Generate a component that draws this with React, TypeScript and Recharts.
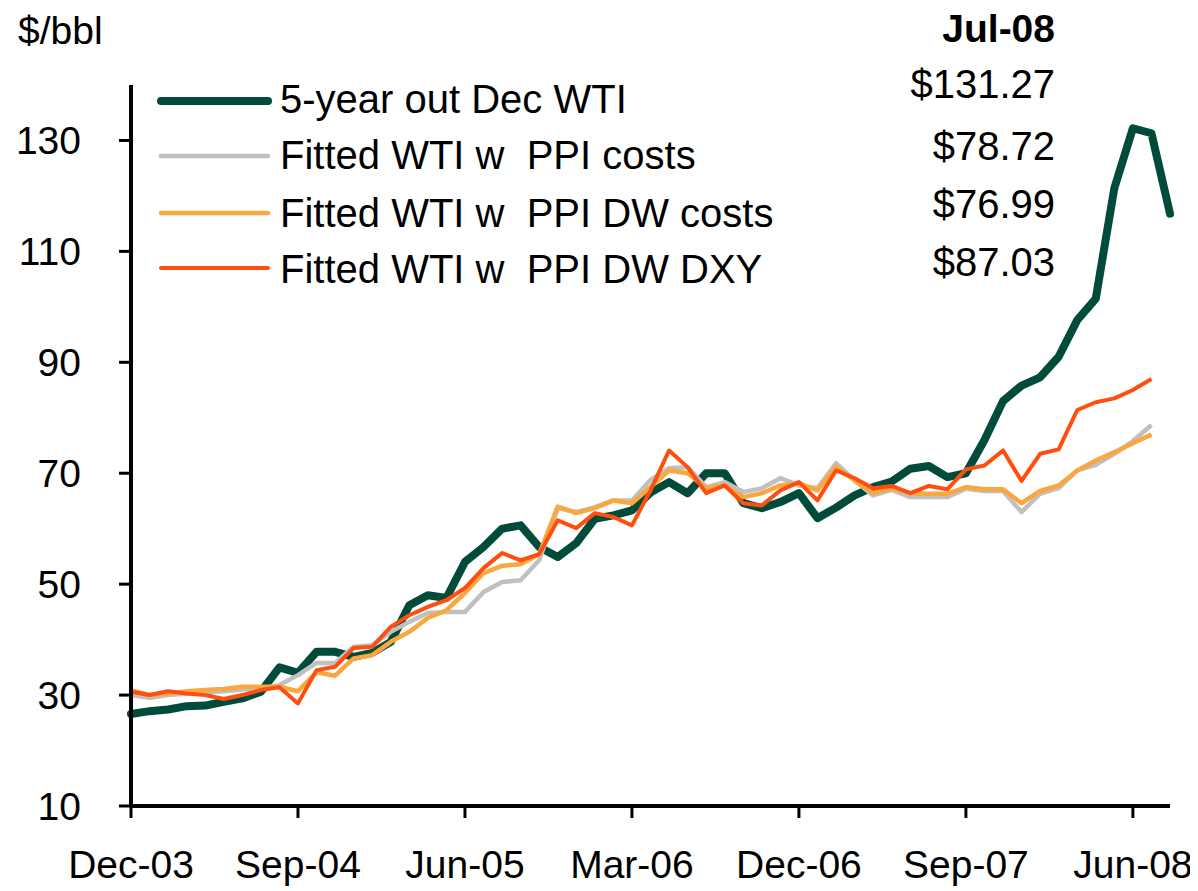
import React from 'react';
import { LineChart, Line, XAxis, YAxis, Legend } from 'recharts';

const months = [
  'Dec-03',
  'Jan-04', 'Feb-04', 'Mar-04', 'Apr-04', 'May-04', 'Jun-04', 'Jul-04', 'Aug-04', 'Sep-04', 'Oct-04', 'Nov-04', 'Dec-04',
  'Jan-05', 'Feb-05', 'Mar-05', 'Apr-05', 'May-05', 'Jun-05', 'Jul-05', 'Aug-05', 'Sep-05', 'Oct-05', 'Nov-05', 'Dec-05',
  'Jan-06', 'Feb-06', 'Mar-06', 'Apr-06', 'May-06', 'Jun-06', 'Jul-06', 'Aug-06', 'Sep-06', 'Oct-06', 'Nov-06', 'Dec-06',
  'Jan-07', 'Feb-07', 'Mar-07', 'Apr-07', 'May-07', 'Jun-07', 'Jul-07', 'Aug-07', 'Sep-07', 'Oct-07', 'Nov-07', 'Dec-07',
  'Jan-08', 'Feb-08', 'Mar-08', 'Apr-08', 'May-08', 'Jun-08', 'Jul-08', 'Aug-08',
];

const wti = [
  26.6,
  27.1, 27.4, 28.0, 28.1, 28.8, 29.4, 30.6, 35.0, 34.0, 37.8, 37.8, 36.9,
  37.6, 39.6, 46.2, 48.0, 47.5, 54.0, 56.7, 60.0, 60.6, 56.7, 54.9, 57.4,
  61.8, 62.4, 63.3, 66.5, 68.4, 66.4, 70.0, 70.0, 64.6, 63.7, 64.8, 66.4,
  61.9, 63.8, 66.0, 67.5, 68.5, 70.8, 71.3, 69.3, 70.0, 76.0, 83.0, 85.8,
  87.3, 91.0, 97.6, 101.5, 121.4, 132.2, 131.3, 116.8,
];

const ppi = [
  30.0,
  29.5, 30.0, 30.3, 30.5, 30.7, 31.0, 31.2, 31.8, 33.6, 35.8, 35.8, 38.7,
  39.0, 41.4, 43.2, 44.8, 45.0, 45.0, 48.6, 50.4, 50.7, 54.3, 63.7, 63.0,
  63.9, 65.1, 65.1, 68.8, 70.9, 71.1, 67.5, 68.4, 66.6, 67.3, 69.1, 67.8,
  67.3, 71.8, 68.7, 66.0, 67.0, 65.7, 65.7, 65.7, 67.2, 66.8, 66.8, 63.0,
  66.3, 67.3, 70.5, 71.5, 73.5, 75.8, 78.7,
];

const ppiDw = [
  30.9,
  30.0, 30.3, 30.7, 30.9, 31.1, 31.5, 31.5, 31.5, 30.7, 34.1, 33.5, 36.6,
  37.2, 39.6, 41.4, 43.9, 45.3, 48.4, 52.0, 53.3, 53.6, 55.4, 64.0, 62.8,
  63.7, 65.1, 64.6, 67.5, 70.5, 70.0, 67.3, 67.8, 65.7, 66.4, 67.8, 68.2,
  66.9, 71.1, 68.7, 66.4, 67.3, 66.4, 66.3, 66.3, 67.5, 67.1, 67.1, 64.6,
  66.8, 67.8, 70.5, 72.3, 73.8, 75.4, 77.0,
];

const ppiDwDxy = [
  30.6,
  30.0, 30.7, 30.3, 30.0, 29.3, 30.0, 30.9, 31.4, 28.5, 34.5, 35.1, 38.5,
  38.7, 42.3, 44.4, 45.9, 47.1, 49.3, 52.9, 55.6, 54.3, 55.4, 61.5, 60.1,
  62.8, 62.1, 60.6, 66.9, 74.1, 71.1, 66.4, 67.8, 64.6, 64.2, 66.9, 68.4,
  65.1, 70.5, 69.1, 67.3, 67.7, 66.4, 67.7, 67.1, 70.7, 71.4, 74.1, 68.6,
  73.5, 74.3, 81.4, 82.8, 83.5, 85.0, 87.0,
];

const yTicks = [10, 30, 50, 70, 90, 110, 130];

const seriesNames = [
  '5-year out Dec WTI',
  'Fitted WTI w  PPI costs',
  'Fitted WTI w  PPI DW costs',
  'Fitted WTI w  PPI DW DXY',
];
const seriesColors = ['#004B3A', '#C0C0C0', '#F9A73E', '#FF4E0F'];
const seriesWidths = [8, 4.5, 4.5, 4];

const latestLabel = 'Jul-08';
const latestValues = ['$131.27', '$78.72', '$76.99', '$87.03'];
const unitLabel = '$/bbl';

const data = months.map((m, i) => ({
  month: m,
  wti: wti[i],
  ppi: i < ppi.length ? ppi[i] : null,
  ppiDw: i < ppiDw.length ? ppiDw[i] : null,
  ppiDwDxy: i < ppiDwDxy.length ? ppiDwDxy[i] : null,
}));

const FONT = '"Liberation Sans", Arial, sans-serif';

const LegendContent = () => {
  const lineY = [93, 148, 205, 260];
  const textY = [105, 161, 219, 275];
  const valY = [90, 152, 210, 268];
  return (
    <svg width={1190} height={300} style={{ display: 'block', overflow: 'visible' }}>
      <text x={10} y={36} fontSize={39} fontFamily={FONT} fill="#000">{unitLabel}</text>
      <text x={1047} y={34} fontSize={39} fontWeight="bold" fontFamily={FONT} fill="#000" textAnchor="end">{latestLabel}</text>
      {seriesNames.map((name, i) => (
        <g key={name}>
          <line x1={153} x2={260} y1={lineY[i]} y2={lineY[i]} stroke={seriesColors[i]} strokeWidth={seriesWidths[i]} strokeLinecap="round" />
          <text x={272} y={textY[i]} fontSize={40} fontFamily={FONT} fill="#000" style={{ whiteSpace: 'pre' }}>{name}</text>
          <text x={1047} y={valY[i]} fontSize={40} fontFamily={FONT} fill="#000" textAnchor="end">{latestValues[i]}</text>
        </g>
      ))}
    </svg>
  );
};

export default function App() {
  return (
    <div style={{ position: 'relative', width: 1190, height: 880, background: '#fff' }}>
      <LineChart
        width={1190}
        height={880}
        data={data}
        margin={{ top: 77, right: 28, left: 63, bottom: 12 }}
      >
        <XAxis
          dataKey="month"
          interval={8}
          tickSize={12}
          tickMargin={32}
          height={70}
          axisLine={{ stroke: '#000', strokeWidth: 4 }}
          tickLine={{ stroke: '#000', strokeWidth: 3 }}
          tick={{ fontSize: 39, fill: '#000', fontFamily: FONT }}
        />
        <YAxis
          type="number"
          domain={[10, 140]}
          ticks={yTicks}
          width={60}
          tickSize={12}
          tickMargin={38}
          allowDataOverflow
          axisLine={{ stroke: '#000', strokeWidth: 4 }}
          tickLine={{ stroke: '#000', strokeWidth: 3 }}
          tick={{ fontSize: 39, fill: '#000', fontFamily: FONT }}
        />
        <Legend
          layout="horizontal"
          verticalAlign="middle"
          align="center"
          content={<LegendContent />}
          wrapperStyle={{ position: 'absolute', left: 0, top: 0, width: 1190, height: 300, pointerEvents: 'none' }}
        />
        <Line type="linear" dataKey="wti" name={seriesNames[0]} stroke={seriesColors[0]} strokeWidth={seriesWidths[0]} dot={false} strokeLinejoin="round" strokeLinecap="round" isAnimationActive={false} />
        <Line type="linear" dataKey="ppi" name={seriesNames[1]} stroke={seriesColors[1]} strokeWidth={seriesWidths[1]} dot={false} strokeLinejoin="round" isAnimationActive={false} />
        <Line type="linear" dataKey="ppiDw" name={seriesNames[2]} stroke={seriesColors[2]} strokeWidth={seriesWidths[2]} dot={false} strokeLinejoin="round" isAnimationActive={false} />
        <Line type="linear" dataKey="ppiDwDxy" name={seriesNames[3]} stroke={seriesColors[3]} strokeWidth={seriesWidths[3]} dot={false} strokeLinejoin="round" isAnimationActive={false} />
      </LineChart>
    </div>
  );
}
